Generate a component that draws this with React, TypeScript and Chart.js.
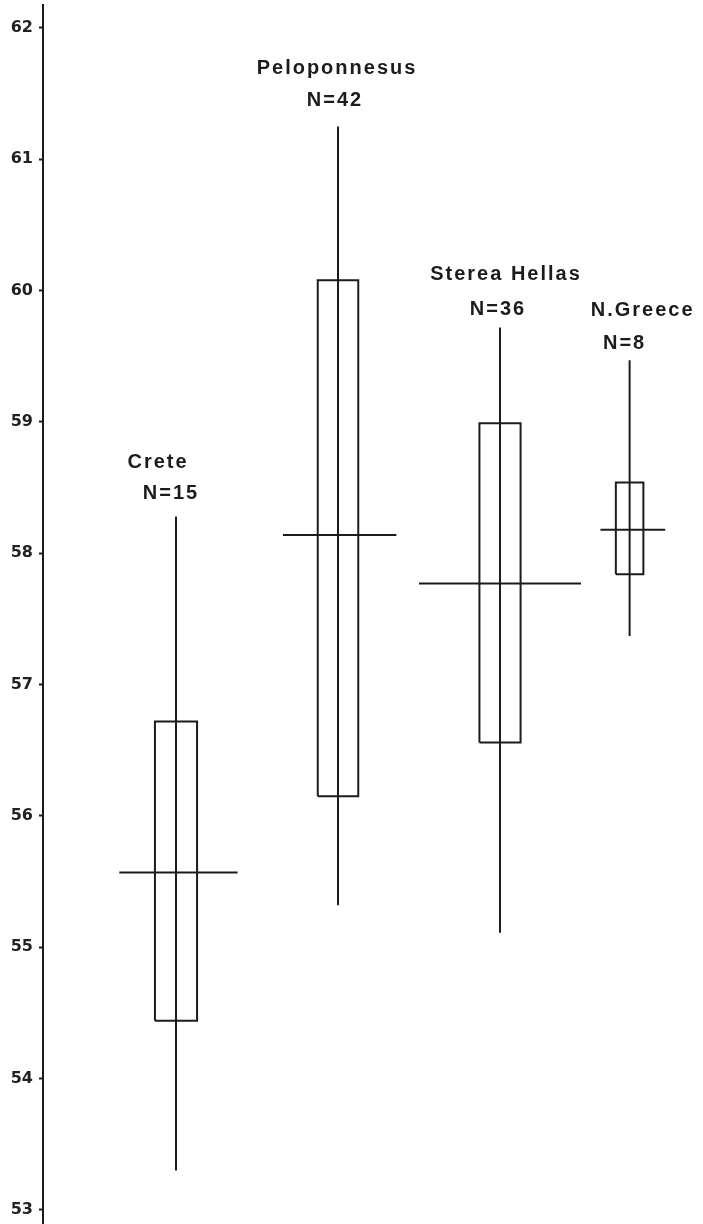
import React, { useEffect, useRef } from "react";
import { Chart, registerables } from "chart.js";

Chart.register(...registerables);

// ---- data ----
const groups = ["Crete", "Peloponnesus", "Sterea Hellas", "N.Greece"];
const sampleSizes = [15, 42, 36, 8];
const whiskerLow = [53.3, 55.32, 55.11, 57.37];
const boxLow = [54.44, 56.15, 56.56, 57.84];
const medians = [55.57, 58.14, 57.77, 58.18];
const boxHigh = [56.72, 60.08, 58.99, 58.54];
const whiskerHigh = [58.28, 61.25, 59.72, 59.47];
const yTicks = [53, 54, 55, 56, 57, 58, 59, 60, 61, 62];
const groupPositions = [1, 2, 3, 3.8];

// ---- style / layout ----
const boxHalfWidth = [0.13, 0.125, 0.127, 0.085];
const medianLeft = [0.35, 0.34, 0.5, 0.18];
const medianRight = [0.38, 0.36, 0.5, 0.22];
const nameOffset = [[-18, -54], [-1, -58], [6, -53], [13, -50]];
const nOffset = [[-5, -23], [-3, -26], [-2, -18], [-5, -17]];
const INK = "#1c1c1c";

const labelPlugin = {
  id: "groupLabels",
  afterDatasetsDraw(chart: any) {
    const { ctx, scales } = chart;
    const xs = scales.x;
    const ys = scales.y;
    ctx.save();
    ctx.fillStyle = INK;
    ctx.textAlign = "center";
    ctx.textBaseline = "middle";
    ctx.font = "bold 20px 'Liberation Sans', Arial, sans-serif";
    try { (ctx as any).letterSpacing = "2px"; } catch (e) {}
    groups.forEach((g, i) => {
      const px = xs.getPixelForValue(groupPositions[i]);
      const py = ys.getPixelForValue(whiskerHigh[i]);
      ctx.fillText(g, px + nameOffset[i][0], py + nameOffset[i][1]);
      ctx.fillText("N=" + sampleSizes[i], px + nOffset[i][0], py + nOffset[i][1]);
    });
    ctx.restore();
  },
};

export default function App() {
  const ref = useRef<HTMLCanvasElement | null>(null);
  useEffect(() => {
    if (!ref.current) return;
    const line = (data: { x: number; y: number }[]) => ({
      data,
      showLine: true,
      borderColor: INK,
      borderWidth: 2,
      pointRadius: 0,
      fill: false,
      tension: 0,
    });
    const datasets: any[] = [];
    groups.forEach((_, i) => {
      const x = groupPositions[i];
      const w = boxHalfWidth[i];
      datasets.push(line([{ x, y: whiskerLow[i] }, { x, y: whiskerHigh[i] }]));
      datasets.push(
        line([
          { x: x - w, y: boxLow[i] },
          { x: x - w, y: boxHigh[i] },
          { x: x + w, y: boxHigh[i] },
          { x: x + w, y: boxLow[i] },
          { x: x - w, y: boxLow[i] },
        ])
      );
      datasets.push(
        line([
          { x: x - medianLeft[i], y: medians[i] },
          { x: x + medianRight[i], y: medians[i] },
        ])
      );
    });
    const chart = new Chart(ref.current, {
      type: "scatter",
      data: { datasets },
      options: {
        animation: false,
        responsive: false,
        devicePixelRatio: 1,
        layout: { padding: { top: 5, bottom: 0, left: 0, right: 0 } },
        plugins: { legend: { display: false }, tooltip: { enabled: false } },
        scales: {
          x: { type: "linear", display: false, min: 0.179, max: 4.253 },
          y: {
            type: "linear",
            position: "left",
            min: 52.893,
            max: 62.175,
            afterBuildTicks: (s: any) => {
              s.ticks = yTicks.map((v) => ({ value: v }));
            },
            afterFit: (s: any) => {
              s.width = 43;
              s.paddingTop = 0;
              s.paddingBottom = 0;
            },
            border: { display: true, color: INK, width: 2 },
            grid: {
              display: true,
              drawOnChartArea: false,
              drawTicks: true,
              tickLength: 4,
              tickColor: INK,
              tickWidth: 2,
            },
            ticks: {
              color: "#222",
              padding: 6,
              font: { family: "'DejaVu Sans', sans-serif", weight: "bold", size: 16 },
              callback: (v: any) => String(v),
            },
          },
        },
      },
      plugins: [labelPlugin],
    });
    return () => chart.destroy();
  }, []);
  return (
    <div style={{ position: "absolute", left: 0, top: 0, width: 703, height: 1224, background: "#fff" }}>
      <canvas ref={ref} width={703} height={1224} style={{ width: 703, height: 1224, display: "block" }} />
    </div>
  );
}
